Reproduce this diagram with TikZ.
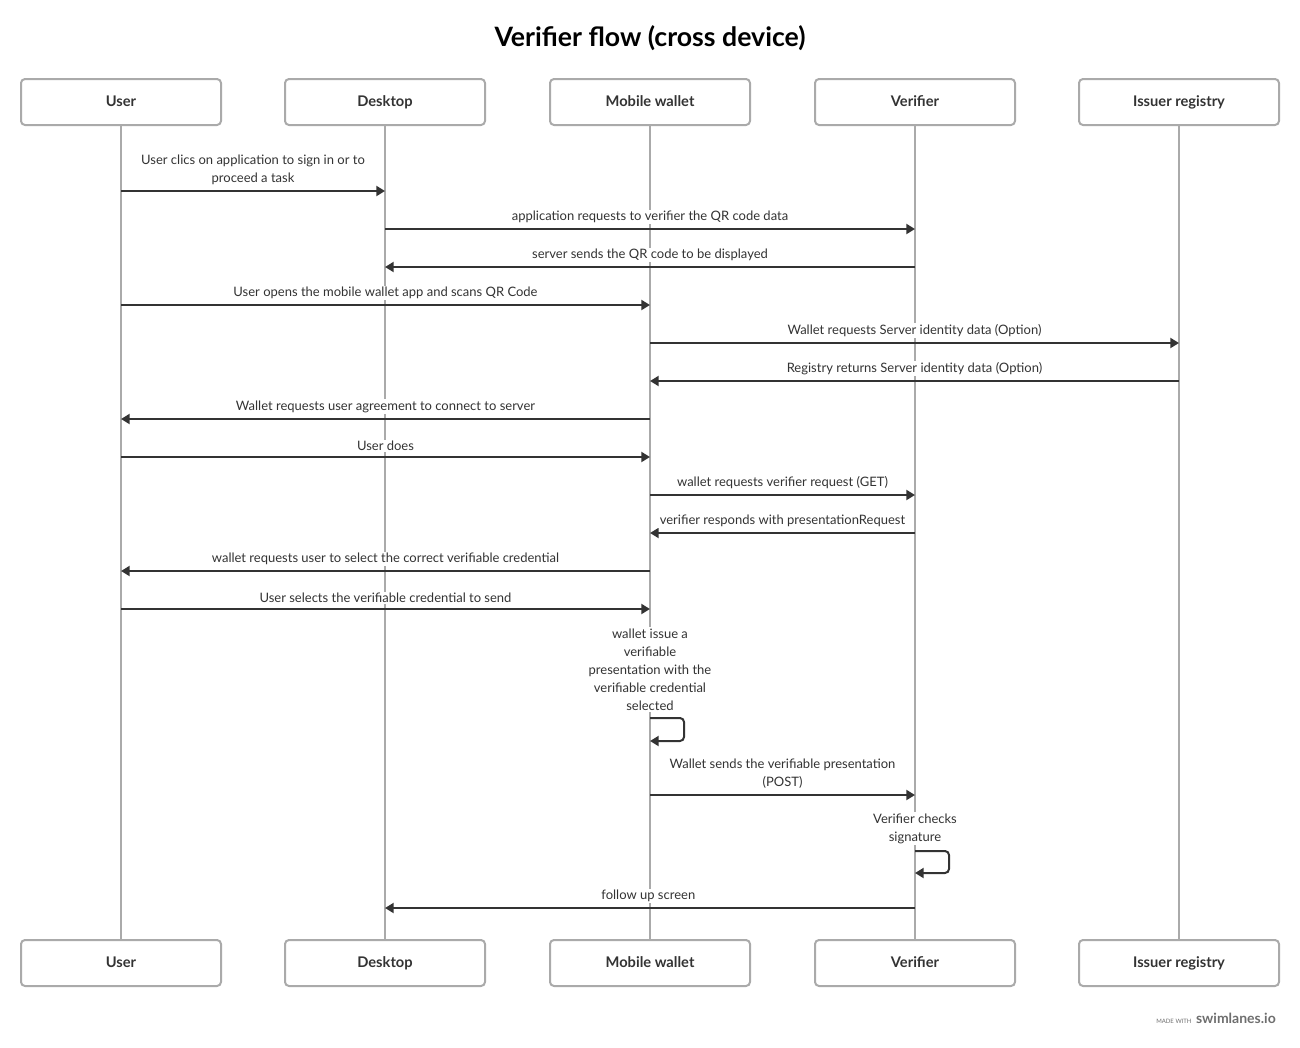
\documentclass[tikz,border=0pt]{standalone}
\usepackage{fontspec}
\setmainfont{Lato}
\usepackage{tikz}
\usetikzlibrary{arrows.meta,positioning,calc}
\definecolor{laneline}{RGB}{170,170,170}
\definecolor{msgdark}{RGB}{51,51,51}
\definecolor{footgray}{RGB}{110,110,110}

\tikzset{
  actor/.style={draw=laneline, line width=1.5pt, rounded corners=3pt, fill=white,
    minimum width=150pt, minimum height=34.5pt, text height=1.6ex, text depth=0.3ex,
    font=\fontsize{11}{13}\selectfont\bfseries, text=msgdark},
  life/.style={draw=laneline, line width=1.5pt},
  msg/.style={draw=msgdark, line width=1.5pt, -{Triangle[length=6.5pt,width=7.5pt]}},
  lbl/.style={fill=white, inner sep=1pt, anchor=south, align=center, text=msgdark,
    font=\fontsize{9.75}{13.5}\selectfont},
}

\begin{document}
\begin{tikzpicture}[x=0.75pt, y=-0.75pt]
\useasboundingbox (0,0) rectangle (1300,1047);

\node[font=\fontsize{20}{22}\selectfont\bfseries, text=black] (title) at (650,38) {Verifier flow (cross device)};

% lanes
\foreach \n/\x/\t in {u/121/User, d/385/Desktop, m/650/Mobile wallet, v/915/Verifier, i/1179/Issuer registry} {
  \node[actor] (\n-top) at (\x,102) {\t};
  \node[actor] (\n-bot) at (\x,963) {\t};
  \draw[life] (\n-top) -- (\n-bot);
}

% messages
\foreach \y/\a/\b/\txt in {
  191/u/d/{User clics on application to sign in or to\\proceed a task},
  229/d/v/{application requests to verifier the QR code data},
  267/v/d/{server sends the QR code to be displayed},
  305/u/m/{User opens the mobile wallet app and scans QR Code},
  343/m/i/{Wallet requests Server identity data (Option)},
  381/i/m/{Registry returns Server identity data (Option)},
  419/m/u/{Wallet requests user agreement to connect to server},
  457/u/m/{User does},
  495/m/v/{wallet requests verifier request (GET)},
  533/v/m/{verifier responds with presentationRequest},
  571/m/u/{wallet requests user to select the correct verifiable credential},
  609/u/m/{User selects the verifiable credential to send},
  795/m/v/{Wallet sends the verifiable presentation\\(POST)},
  908/v/d/{follow up screen}
} {
  \draw[msg] (\a-top |- 0,\y) -- node[lbl, yshift=3pt] {\txt} (\b-top |- 0,\y);
}

% self calls
\coordinate (wself) at (m-top |- 0,718);
\coordinate (vself) at (v-top |- 0,851);
\node[lbl] (wnote) at ($(wself)+(0,-6)$) {wallet issue a\\verifiable\\presentation with the\\verifiable credential\\selected};
\draw[msg, rounded corners=3pt] (wself) -- ++(34,0) -- ++(0,23) -- ($(wself)+(0,23)$);
\node[lbl] (vnote) at ($(vself)+(0,-6)$) {Verifier checks\\signature};
\draw[msg, rounded corners=3pt] (vself) -- ++(34,0) -- ++(0,22) -- ($(vself)+(0,22)$);

% footer
\node[anchor=east, inner sep=0pt, text=footgray, font=\fontsize{10.5}{12}\selectfont\bfseries] (brand) at (1276,1018) {swimlanes.io};
\node[left=3pt of brand.base west, anchor=base east, inner sep=0pt, text=footgray, font=\fontsize{4.5}{5}\selectfont] (madewith) {MADE WITH};
\end{tikzpicture}
\end{document}
